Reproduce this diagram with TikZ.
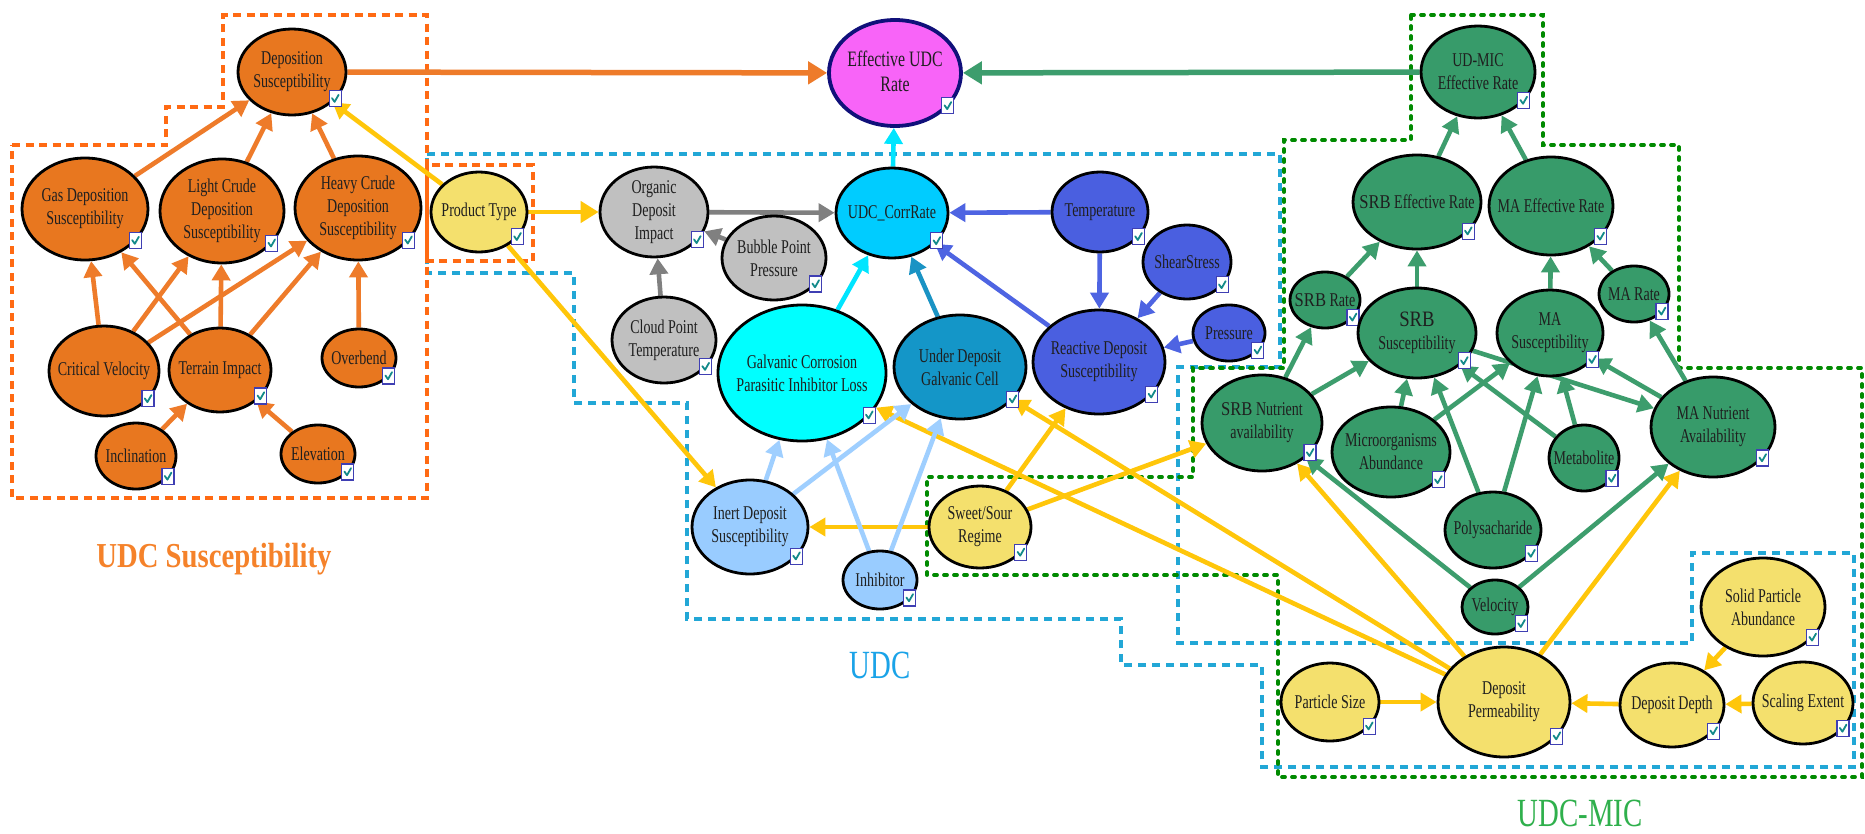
\documentclass[tikz,border=0pt]{standalone}
\usepackage{fontspec}
\setmainfont{Liberation Serif}
\newfontfamily\nodefont[FakeStretch=0.72]{Liberation Serif}
\newfontfamily\srbfont[FakeStretch=0.85]{Liberation Serif}
\newfontfamily\titlefont[FakeStretch=0.72]{Liberation Serif}
\newfontfamily\titlebfont[FakeStretch=0.82]{Liberation Serif}
\usetikzlibrary{shapes.geometric,arrows.meta,calc}

\pgfdeclarelayer{boxes}
\pgfdeclarelayer{edges}
\pgfsetlayers{boxes,edges,main}

% node fills
\definecolor{nOrange}{HTML}{E8771F}
\definecolor{nYellow}{HTML}{F4E06D}
\definecolor{nGray}{HTML}{C0C0C0}
\definecolor{nSky}{HTML}{00CCFF}
\definecolor{nCyan}{HTML}{00FFFF}
\definecolor{nTeal}{HTML}{1496C8}
\definecolor{nBlue}{HTML}{4A5FE0}
\definecolor{nLight}{HTML}{99CCFF}
\definecolor{nGreen}{HTML}{379B6A}
\definecolor{nMagenta}{HTML}{F864F8}
\definecolor{nNavy}{HTML}{10107A}
% connector colours
\definecolor{aOrange}{HTML}{EE7B2A}
\definecolor{aYellow}{HTML}{FFC60A}
\definecolor{aGray}{HTML}{808080}
\definecolor{aCyan}{HTML}{00E5FF}
\definecolor{aTeal}{HTML}{1A93C4}
\definecolor{aBlue}{HTML}{4E64E2}
\definecolor{aLight}{HTML}{9FCFFF}
\definecolor{aGreen}{HTML}{3D9D6D}
% group outlines and titles
\definecolor{bOrange}{HTML}{FF6A13}
\definecolor{bBlue}{HTML}{22A7D6}
\definecolor{bGreen}{HTML}{008A00}
\definecolor{tOrange}{HTML}{F5822A}
\definecolor{tBlue}{HTML}{1AA3E8}
\definecolor{tGreen}{HTML}{2FB04C}
% check boxes
\definecolor{chkBlue}{HTML}{3F3FB3}
\definecolor{chkTeal}{HTML}{138A8A}

\tikzset{
  bn/.style={ellipse, draw=black, line width=2.8pt, inner sep=0pt},
  btext/.style={align=center, inner sep=0pt, text=black!88,
    font=\nodefont\fontsize{19.5}{23}\selectfont},
  onode/.style={fill=nOrange},
  ynode/.style={fill=nYellow},
  grnode/.style={fill=nGray},
  skynode/.style={fill=nSky},
  cynode/.style={fill=nCyan},
  tlnode/.style={fill=nTeal},
  blnode/.style={fill=nBlue},
  ltnode/.style={fill=nLight},
  gnnode/.style={fill=nGreen},
  chk/.style={rectangle, draw=chkBlue, line width=1.1pt, fill=white,
    minimum width=12pt, minimum height=16pt, inner sep=0pt,
    path picture={\draw[chkTeal, line width=1.8pt, line cap=round, line join=round]
      ([shift={(-3.2pt,0.5pt)}]path picture bounding box.center) --
      ([shift={(-0.6pt,-3.2pt)}]path picture bounding box.center) --
      ([shift={(3.4pt,3.8pt)}]path picture bounding box.center);}},
  ar/.style={line width=4.6pt, -{Triangle[length=16pt,width=18pt]}},
  oa/.style={ar, draw=aOrange},
  ya/.style={ar, draw=aYellow},
  gra/.style={ar, draw=aGray},
  cya/.style={ar, draw=aCyan},
  tla/.style={ar, draw=aTeal},
  bla/.style={ar, draw=aBlue},
  lta/.style={ar, draw=aLight},
  gna/.style={ar, draw=aGreen},
  heavy/.style={line width=5.5pt, -{Triangle[length=19pt,width=22pt]}},
  obox/.style={draw=bOrange, line width=3.6pt, dash pattern=on 8pt off 5.5pt},
  bbox/.style={draw=bBlue, line width=3.6pt, dash pattern=on 8pt off 6pt},
  gbox/.style={draw=bGreen, line width=3.8pt, line cap=round, dash pattern=on 3pt off 7pt},
}

% ellipse node with its caption and check box
% #1 fill style, #2 name, #3 x, #4 y, #5 x radius, #6 y radius, #7 caption
\newcommand\bnode[7][]{%
  \node[bn,#1,minimum width=2*#5,minimum height=2*#6] (#2) at (#3,#4) {};
  \node[btext] (#2-t) at (#3,#4) {#7};
  \node[chk] (#2-c) at ($(#3,#4)+(0.8*#5,0.62*#6)$) {};
}
\newcommand\srb{{\srbfont SRB}}

\begin{document}
\begin{tikzpicture}[x=1pt,y=-1pt]
\useasboundingbox (0,0) rectangle (1865,833);
\begin{pgfonlayer}{boxes}
  \fill[white] (0,0) rectangle (1865,833);
  % UDC group
  \draw[bbox] (427,154) -- (1280,154) -- (1280,367) -- (1178,367) -- (1178,643)
    -- (1692,643) -- (1692,553) -- (1854,553) -- (1854,767) -- (1262,767)
    -- (1262,665) -- (1121,665) -- (1121,619) -- (687,619) -- (687,403)
    -- (574,403) -- (574,273) -- (427,273) -- cycle;
  % UDC susceptibility group
  \draw[obox] (12,145) -- (166,145) -- (166,107) -- (223,107) -- (223,15)
    -- (427,15) -- (427,498) -- (12,498) -- cycle;
  \draw[obox] (427,165) rectangle (533,261);
  % UDC-MIC group
  \draw[gbox] (1411,15) -- (1543,15) -- (1543,145) -- (1679,145) -- (1679,368)
    -- (1862,368) -- (1862,777) -- (1278,777) -- (1278,575) -- (927,575)
    -- (927,477) -- (1193,477) -- (1193,368) -- (1284,368) -- (1284,140)
    -- (1411,140) -- cycle;
\end{pgfonlayer}

% ---- UDC susceptibility ----
\bnode[onode]{depsus}{292}{72}{54}{43}{Deposition\\Susceptibility}
\bnode[onode]{gasdep}{85}{209}{63}{51}{Gas Deposition\\Susceptibility}
\bnode[onode]{lightdep}{222}{211}{62}{52}{Light Crude\\Deposition\\Susceptibility}
\bnode[onode]{heavydep}{358}{208}{63}{52}{Heavy Crude\\Deposition\\Susceptibility}
\bnode[onode]{critvel}{104}{371}{55}{45}{Critical Velocity}
\bnode[onode]{terrain}{220}{370}{51}{42}{Terrain Impact}
\bnode[onode]{overbend}{359}{358}{37}{29}{Overbend}
\bnode[onode]{incl}{136}{456}{40}{33}{Inclination}
\bnode[onode]{elev}{318}{454}{37}{29}{Elevation}
\bnode[ynode]{ptype}{479}{212}{48}{40}{Product Type}

% ---- UDC ----
\node[bn,fill=nMagenta,draw=nNavy,line width=3.8pt,minimum width=132,minimum height=106] (effudc) at (895,73) {};
\node[btext,font=\nodefont\fontsize{22}{25}\selectfont] (effudc-t) at (895,71) {Effective UDC\\Rate};
\node[chk] (effudc-c) at ($(895,73)+(0.8*66,0.62*53)$) {};
\bnode[grnode]{organic}{654}{212}{54}{45}{Organic\\Deposit\\Impact}
\bnode[grnode]{bubble}{774}{258}{52}{42}{Bubble Point\\Pressure}
\bnode[grnode]{cloud}{664}{340}{52}{43}{Cloud Point\\Temperature}
\bnode[skynode]{udccorr}{892}{213}{56}{45}{UDC\_CorrRate}
\bnode[cynode]{galv}{802}{373}{84}{68}{Galvanic Corrosion\\Parasitic Inhibitor Loss}
\bnode[tlnode]{under}{960}{367}{66}{52}{Under Deposit\\Galvanic Cell}
\bnode[blnode]{reactive}{1099}{362}{66}{52}{Reactive Deposit\\Susceptibility}
\bnode[blnode]{temp}{1100}{212}{48}{40}{Temperature}
\bnode[blnode]{shear}{1187}{262}{44}{37}{ShearStress}
\bnode[blnode]{press}{1229}{333}{36}{28}{Pressure}
\bnode[ltnode]{inert}{750}{527}{58}{47}{Inert Deposit\\Susceptibility}
\bnode[ltnode]{inhib}{880}{580}{37}{29}{Inhibitor}
\bnode[ynode]{sweet}{980}{527}{51}{41}{Sweet/Sour\\Regime}

% ---- UDC-MIC ----
\bnode[gnnode]{udmic}{1478}{72}{57}{46}{UD-MIC\\Effective Rate}
\bnode[gnnode]{srbeff}{1417}{202}{64}{47}{\srb{} Effective Rate}
\bnode[gnnode]{maeff}{1551}{206}{62}{49}{MA Effective Rate}
\bnode[gnnode]{srbrate}{1325}{300}{35}{28}{\srb{} Rate}
\bnode[gnnode]{marate}{1634}{294}{35}{28}{MA Rate}
\bnode[gnnode]{srbsus}{1417}{333}{59}{45}{{\srbfont\fontsize{22}{23}\selectfont SRB}\\Susceptibility}
\bnode[gnnode]{masus}{1550}{333}{53}{43}{MA\\Susceptibility}
\bnode[gnnode]{srbnut}{1262}{423}{60}{48}{\srb{} Nutrient\\availability}
\bnode[gnnode]{microb}{1391}{452}{59}{45}{Microorganisms\\Abundance}
\bnode[gnnode]{metab}{1584}{458}{35}{33}{Metabolite}
\bnode[gnnode]{manut}{1713}{427}{62}{50}{MA Nutrient\\Availability}
\bnode[gnnode]{polys}{1493}{530}{48}{38}{Polysacharide}
\bnode[gnnode]{velo}{1495}{607}{33}{27}{Velocity}
\bnode[ynode]{solid}{1763}{607}{62}{49}{Solid Particle\\Abundance}
\bnode[ynode]{ddepth}{1672}{705}{52}{42}{Deposit Depth}
\bnode[ynode]{scaling}{1803}{703}{50}{41}{Scaling Extent}
\bnode[ynode]{dperm}{1504}{702}{66}{55}{Deposit\\Permeability}
\bnode[ynode]{psize}{1330}{702}{49}{39}{Particle Size}

% group titles
\node[anchor=base, inner sep=0pt, text=tOrange, font=\titlebfont\bfseries\fontsize{35}{40}\selectfont] (title-susc) at (214,567) {UDC Susceptibility};
\node[anchor=base, inner sep=0pt, text=tBlue, font=\titlefont\fontsize{40}{44}\selectfont] (title-udc) at (880,678) {UDC};
\node[anchor=base, inner sep=0pt, text=tGreen, font=\titlefont\fontsize{40}{44}\selectfont] (title-mic) at (1580,826) {UDC-MIC};

\begin{pgfonlayer}{edges}
  % susceptibility chain
  \draw[oa] (gasdep) -- (depsus);
  \draw[oa] (lightdep) -- (depsus);
  \draw[oa] (heavydep) -- (depsus);
  \draw[oa] (critvel) -- (gasdep);
  \draw[oa] (critvel) -- (lightdep);
  \draw[oa] (critvel) -- (heavydep);
  \draw[oa] (terrain) -- (gasdep);
  \draw[oa] (terrain) -- (lightdep);
  \draw[oa] (terrain) -- (heavydep);
  \draw[oa] (overbend) -- (heavydep);
  \draw[oa] (incl) -- (terrain);
  \draw[oa] (elev) -- (terrain);
  \draw[oa,heavy] (depsus) -- (effudc);
  % product and regime influences
  \draw[ya] (ptype) -- (depsus);
  \draw[ya,-{Triangle[length=18pt,width=21pt]}] (ptype) -- (organic);
  \draw[ya] (ptype) -- (inert);
  \draw[ya] (sweet) -- (inert);
  \draw[ya] (sweet) -- (reactive);
  \draw[ya] (sweet) -- (srbnut);
  \draw[ya] (dperm) -- (galv);
  \draw[ya] (dperm) -- (under);
  \draw[ya] (dperm) -- (srbnut);
  \draw[ya] (dperm) -- (manut);
  \draw[ya] (psize) -- (dperm);
  \draw[ya] (ddepth) -- (dperm);
  \draw[ya] (scaling) -- (ddepth);
  \draw[ya] (solid) -- (ddepth);
  % organic deposits
  \draw[gra] (organic) -- (udccorr);
  \draw[gra] (bubble) -- (organic);
  \draw[gra] (cloud) -- (organic);
  % corrosion rate
  \draw[cya] (galv) -- (udccorr);
  \draw[cya] (udccorr) -- (effudc);
  \draw[tla] (under) -- (udccorr);
  \draw[bla] (temp) -- (udccorr);
  \draw[bla] (reactive) -- (udccorr);
  \draw[bla] (temp) -- (reactive);
  \draw[bla] (shear) -- (reactive);
  \draw[bla] (press) -- (reactive);
  \draw[lta] (inert) -- (galv);
  \draw[lta] (inert) -- (under);
  \draw[lta] (inhib) -- (galv);
  \draw[lta] (inhib) -- (under);
  % microbial branch
  \draw[gna,heavy] (udmic) -- (effudc);
  \draw[gna] (srbeff) -- (udmic);
  \draw[gna] (maeff) -- (udmic);
  \draw[gna] (srbrate) -- (srbeff);
  \draw[gna] (srbsus) -- (srbeff);
  \draw[gna] (masus) -- (maeff);
  \draw[gna] (marate) -- (maeff);
  \draw[gna] (srbnut) -- (srbrate);
  \draw[gna] (srbnut) -- (srbsus);
  \draw[gna] (manut) -- (marate);
  \draw[gna] (manut) -- (masus);
  \draw[gna] (srbsus) -- (manut);
  \draw[gna] (microb) -- (srbsus);
  \draw[gna] (microb) -- (masus);
  \draw[gna] (polys) -- (srbsus);
  \draw[gna] (polys) -- (masus);
  \draw[gna] (metab) -- (srbsus);
  \draw[gna] (metab) -- (masus);
  \draw[gna] (velo) -- (srbnut);
  \draw[gna] (velo) -- (manut);
\end{pgfonlayer}
\end{tikzpicture}
\end{document}
